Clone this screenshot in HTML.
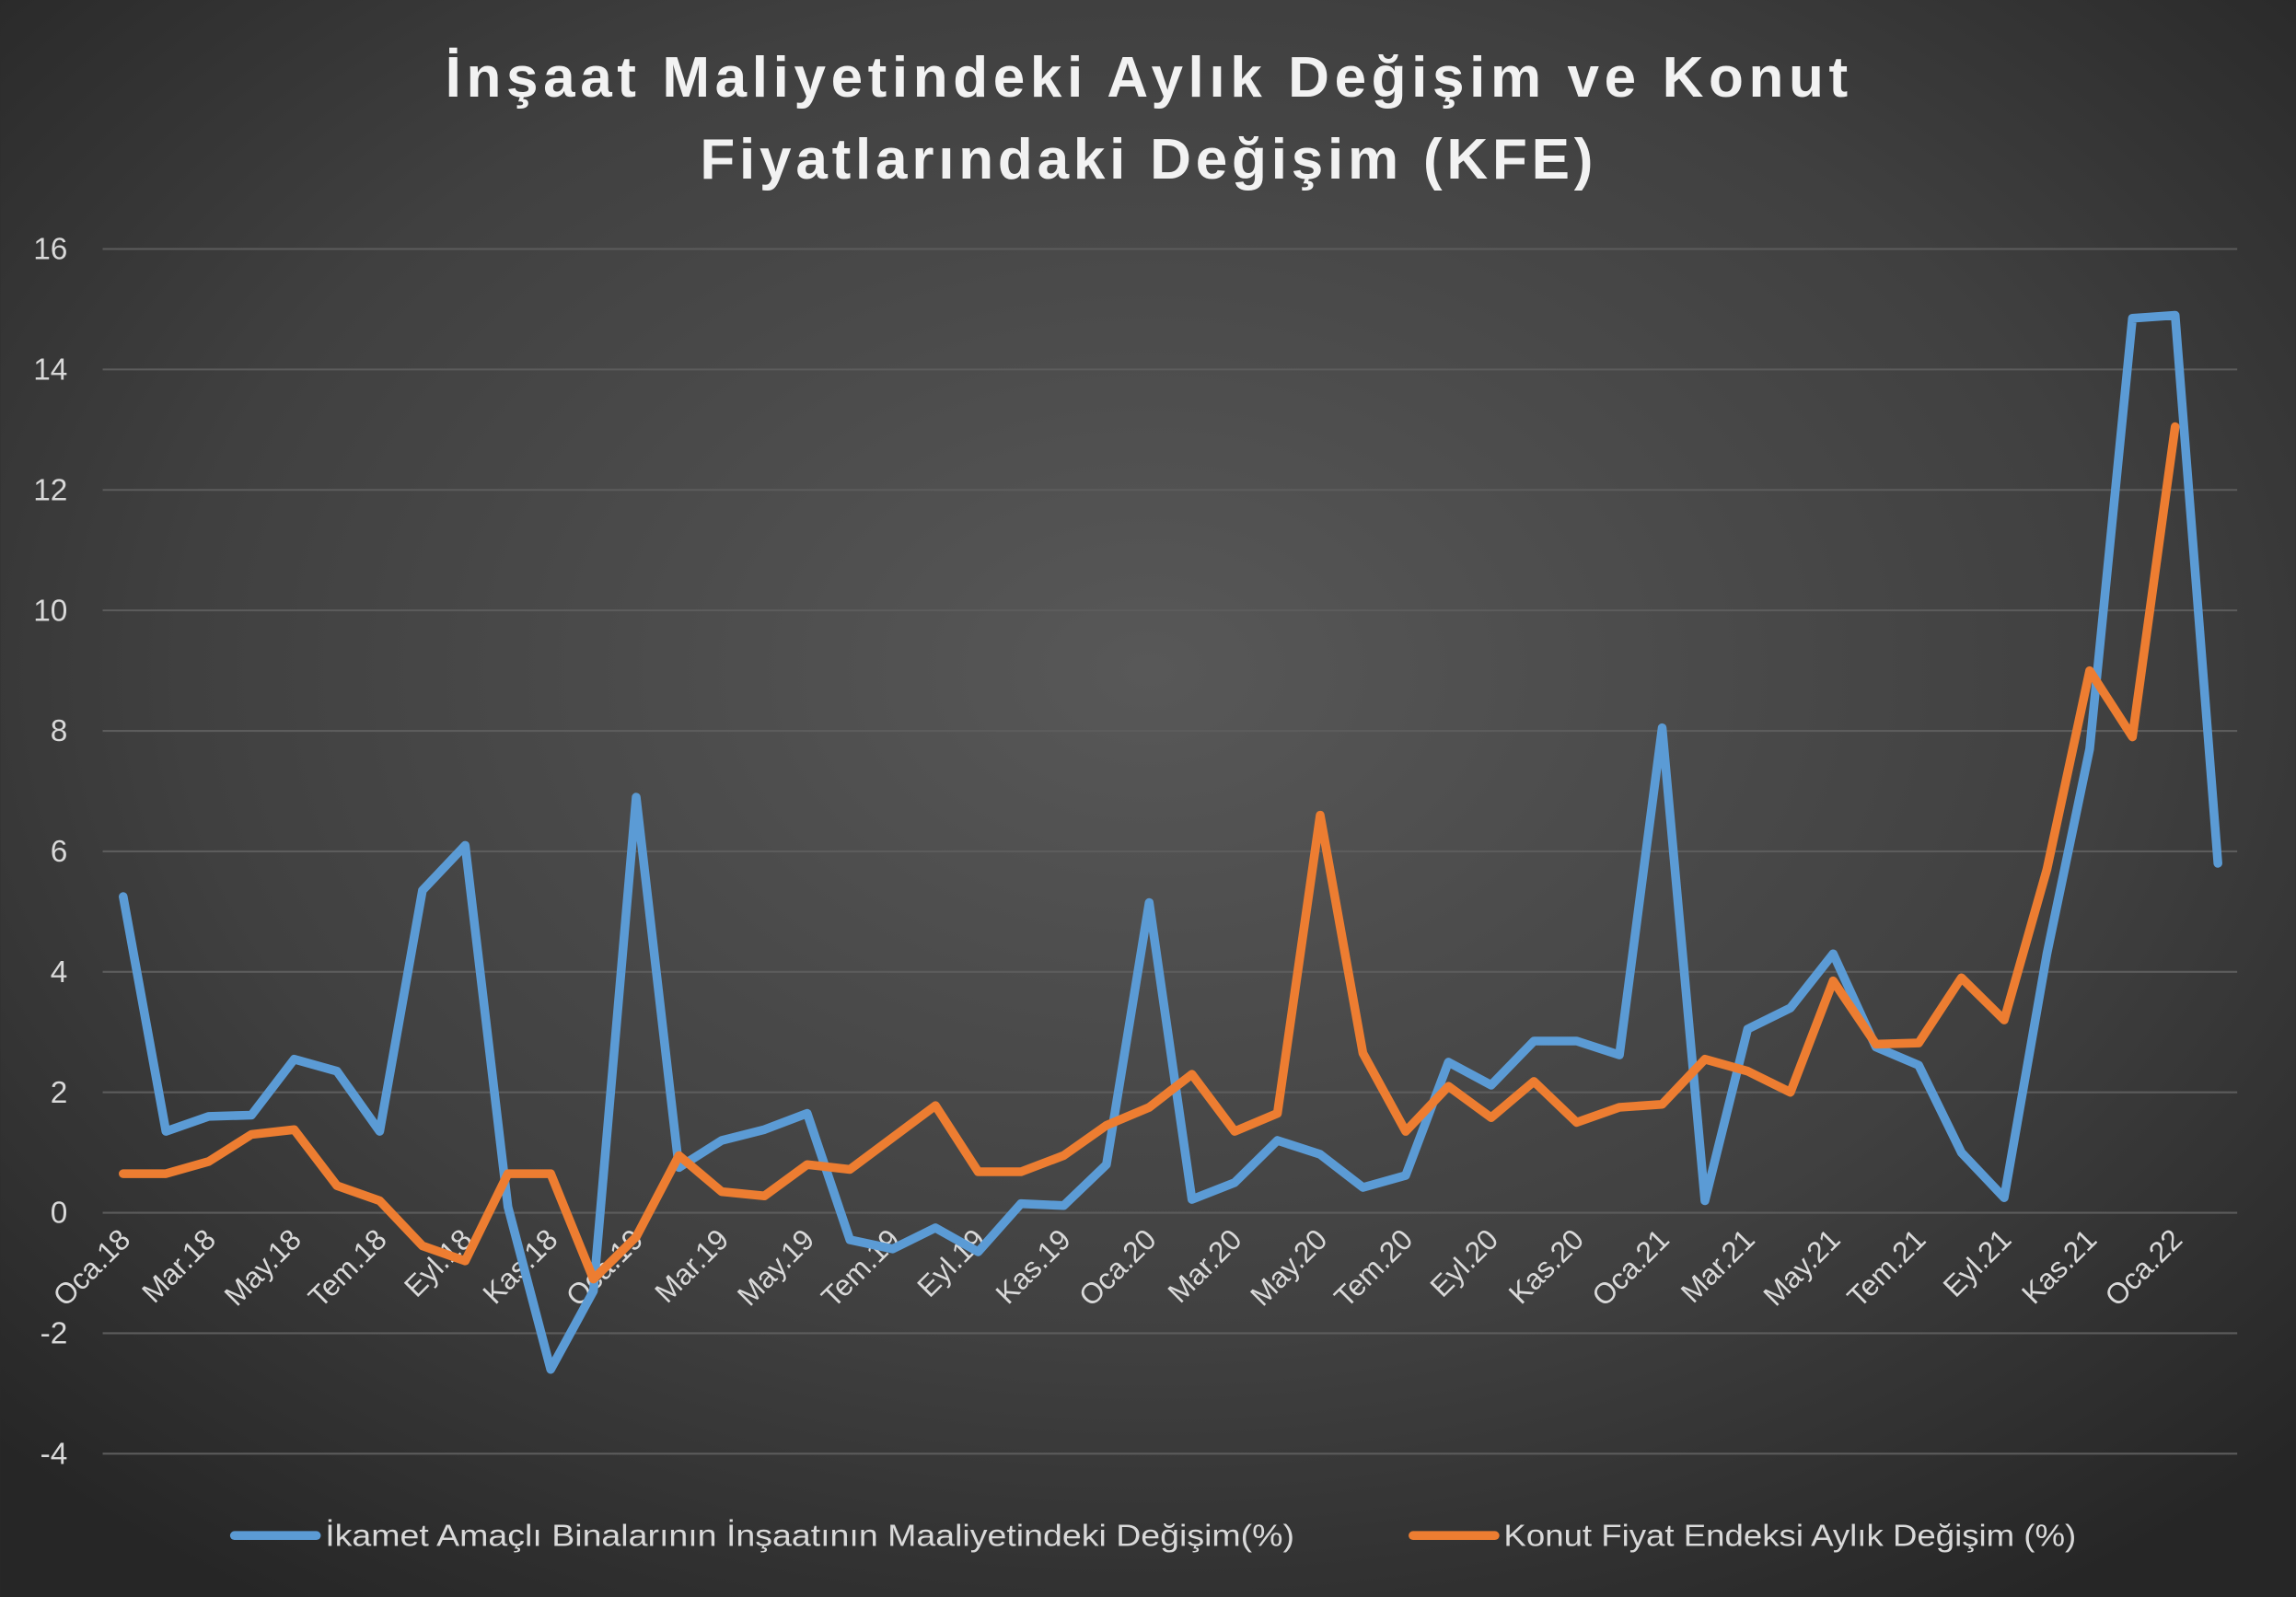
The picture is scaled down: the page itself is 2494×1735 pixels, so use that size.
<!DOCTYPE html>
<html><head><meta charset="utf-8"><style>
html,body{margin:0;padding:0;background:#2a2a2a}
svg{display:block}
text{font-family:"Liberation Sans","DejaVu Sans",sans-serif}
</style></head><body>
<svg width="2494" height="1735" viewBox="0 0 1568 1091" xmlns="http://www.w3.org/2000/svg">
<defs>
<radialGradient id="bg" cx="50%" cy="42%" r="70%">
<stop offset="0" stop-color="#585858"/>
<stop offset="0.6" stop-color="#404040"/>
<stop offset="1" stop-color="#262626"/>
</radialGradient>
</defs>
<rect width="1568" height="1091" fill="url(#bg)"/>
<text x="304" y="66" font-size="39" font-weight="bold" fill="#f2f2f2" textLength="958" lengthAdjust="spacing">İnşaat Maliyetindeki Aylık Değişim ve Konut</text>
<text x="478" y="122" font-size="39" font-weight="bold" fill="#f2f2f2" textLength="610" lengthAdjust="spacing">Fiyatlarındaki Değişim (KFE)</text>
<g id="grid" stroke="#5c5c5c" stroke-width="1.3"></g>
<g id="yl" font-size="21" fill="#d9d9d9" text-anchor="end"></g>
<g id="xl" font-size="20" fill="#d9d9d9" text-anchor="end"></g>
<polyline id="blue" fill="none" stroke="#5b9bd5" stroke-width="6" stroke-linejoin="round" stroke-linecap="round"/>
<polyline id="orange" fill="none" stroke="#ed7d31" stroke-width="6" stroke-linejoin="round" stroke-linecap="round"/>
<line x1="160" y1="1049" x2="216" y2="1049" stroke="#5b9bd5" stroke-width="6" stroke-linecap="round"/>
<text x="222" y="1056" font-size="21" fill="#d9d9d9" textLength="662" lengthAdjust="spacingAndGlyphs">İkamet Amaçlı Binalarının İnşaatının Maaliyetindeki Değişim(%)</text>
<line x1="965" y1="1049" x2="1021" y2="1049" stroke="#ed7d31" stroke-width="6" stroke-linecap="round"/>
<text x="1027" y="1056" font-size="21" fill="#d9d9d9" textLength="391" lengthAdjust="spacingAndGlyphs">Konut Fiyat Endeksi Aylık Değişim (%)</text>
</svg>
<script>
var ns="http://www.w3.org/2000/svg";
function Y(v){return 828.5-v*41.15;}
function X(i){return 84+i*29.2;}
var g=document.getElementById('grid'),yl=document.getElementById('yl'),xl=document.getElementById('xl');
for(var v=-4;v<=16;v+=2){var l=document.createElementNS(ns,'line');l.setAttribute('x1',70);l.setAttribute('x2',1528);l.setAttribute('y1',Y(v));l.setAttribute('y2',Y(v));g.appendChild(l);
var t=document.createElementNS(ns,'text');t.setAttribute('x',46);t.setAttribute('y',Y(v)+7);t.textContent=v;yl.appendChild(t);}
var m=['Oca','Mar','May','Tem','Eyl','Kas'];
for(var i=0;i<50;i+=2){var yr=18+Math.floor(i/12);var t=document.createElementNS(ns,'text');var x=X(i)+6,y=848;t.setAttribute('x',x);t.setAttribute('y',y);t.setAttribute('transform','rotate(-45 '+x+' '+y+')');t.textContent=m[(i%12)/2]+'.'+yr;xl.appendChild(t);}
var b=[5.25,1.35,1.6,1.62,2.55,2.35,1.35,5.35,6.1,0.1,-2.6,-1.3,6.9,0.75,1.2,1.38,1.65,-0.45,-0.6,-0.25,-0.65,0.15,0.12,0.8,5.15,0.22,0.5,1.2,0.97,0.42,0.62,2.5,2.12,2.85,2.85,2.62,8.05,0.2,3.05,3.4,4.3,2.75,2.45,1.0,0.25,4.3,7.7,14.85,14.9,5.8];
var o=[0.65,0.65,0.85,1.3,1.38,0.45,0.2,-0.55,-0.8,0.65,0.65,-1.1,-0.4,0.95,0.35,0.28,0.8,0.72,1.25,1.78,0.68,0.68,0.95,1.45,1.75,2.3,1.35,1.65,6.6,2.65,1.35,2.1,1.58,2.18,1.5,1.75,1.8,2.55,2.35,2.0,3.85,2.8,2.82,3.9,3.2,5.7,9.0,7.9,13.05];
function pts(a){return a.map(function(v,i){return X(i).toFixed(1)+','+Y(v).toFixed(1)}).join(' ');}
document.getElementById('blue').setAttribute('points',pts(b));
document.getElementById('orange').setAttribute('points',pts(o));
</script>
</body></html>
